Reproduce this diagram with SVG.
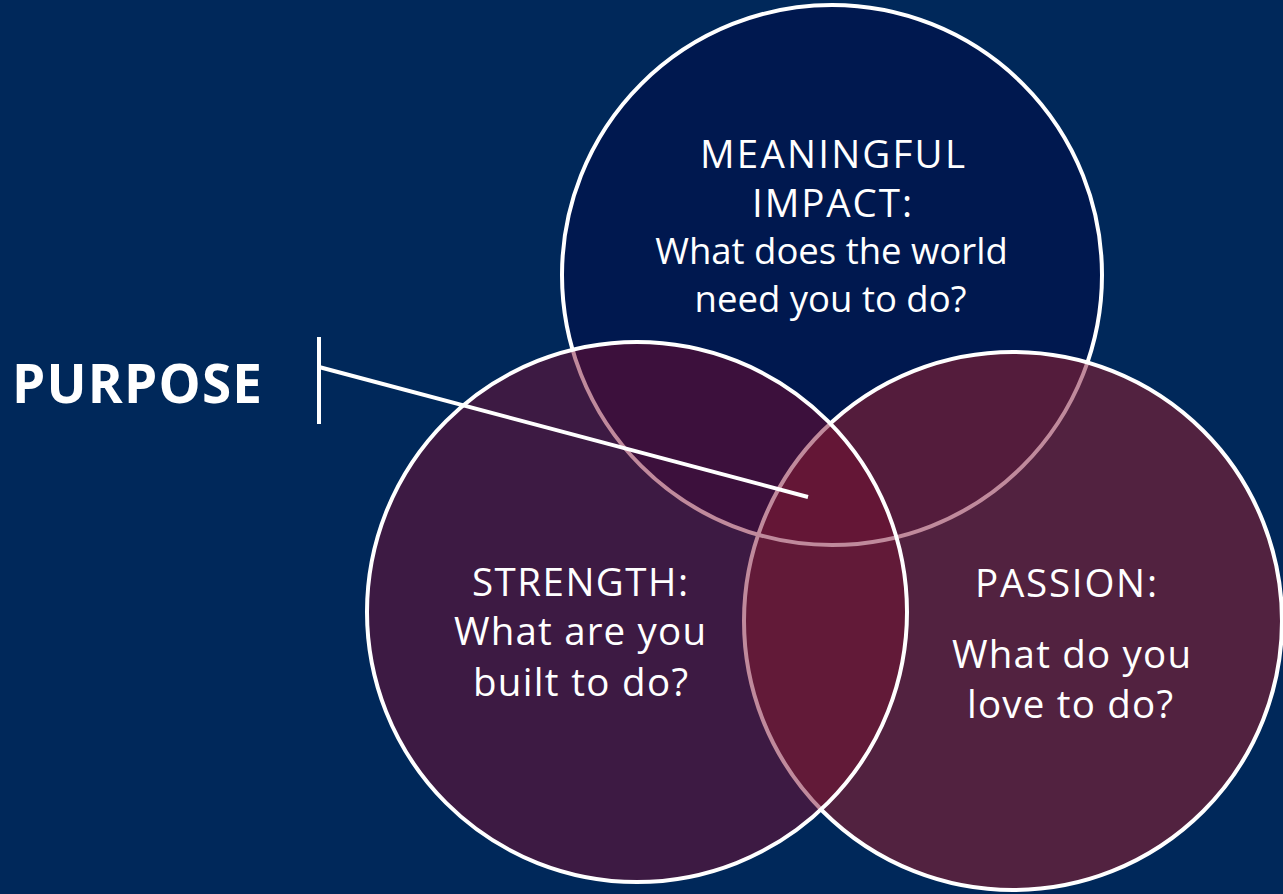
<svg xmlns="http://www.w3.org/2000/svg" width="1283" height="894" viewBox="0 0 1283 894">
<style>
.lbl{font-family:"Open Sans","Noto Sans","Liberation Sans",sans-serif;font-size:38.5px;font-weight:normal;fill:#ffffff;text-anchor:middle;}
.sm{font-size:36.5px;}
.ttl{font-family:"Open Sans","Noto Sans","Liberation Sans",sans-serif;font-size:53px;font-weight:bold;fill:#ffffff;}
.ws{fill:none;stroke:#ffffff;stroke-width:4;}
.ps{fill:none;stroke:#c08a9c;stroke-width:4;}
.ln{stroke:#ffffff;stroke-width:4;fill:none;}
</style>
<defs>
<clipPath id="cL"><circle cx="637" cy="612" r="270"/></clipPath>
<clipPath id="cR"><circle cx="1013" cy="621" r="269"/></clipPath>
<clipPath id="cLR"><circle cx="637" cy="612" r="270"/><circle cx="1013" cy="621" r="269"/></clipPath>
<mask id="mOutLR"><rect width="1283" height="894" fill="#fff"/><circle cx="637" cy="612" r="270" fill="#000"/><circle cx="1013" cy="621" r="269" fill="#000"/></mask>
<mask id="mOutL"><rect width="1283" height="894" fill="#fff"/><circle cx="637" cy="612" r="270" fill="#000"/></mask>
</defs>
<rect width="1283" height="894" fill="#00285a"/>
<g id="fills">
<circle cx="832" cy="275" r="270" fill="#00184f"/>
<circle cx="1013" cy="621" r="269" fill="#522240"/>
<circle cx="637" cy="612" r="270" fill="#3d1a43"/>
<g clip-path="url(#cR)"><circle cx="832" cy="275" r="270" fill="#541c3c"/></g>
<g clip-path="url(#cL)"><circle cx="832" cy="275" r="270" fill="#3c103c"/></g>
<g clip-path="url(#cL)"><circle cx="1013" cy="621" r="269" fill="#621a38"/></g>
<g clip-path="url(#cL)"><g clip-path="url(#cR)"><circle cx="832" cy="275" r="270" fill="#641636"/></g></g>
</g>
<g id="node-impact">
<circle class="ws" cx="832" cy="275" r="270" mask="url(#mOutLR)"/>
<circle class="ps" cx="832" cy="275" r="270" clip-path="url(#cLR)"/>
<text class="lbl" x="832.5" y="168" textLength="265" lengthAdjust="spacing">MEANINGFUL</text>
<text class="lbl" x="832" y="217" textLength="160" lengthAdjust="spacing">IMPACT:</text>
<text class="lbl sm" x="831.5" y="264">What does the world</text>
<text class="lbl sm" x="830.5" y="312">need you to do?</text>
</g>
<g id="node-passion">
<circle class="ws" cx="1013" cy="621" r="269" mask="url(#mOutL)"/>
<circle class="ps" cx="1013" cy="621" r="269" clip-path="url(#cL)"/>
<text class="lbl" x="1066" y="597" textLength="182" lengthAdjust="spacing">PASSION:</text>
<text class="lbl" x="1071.5" y="668" textLength="239" lengthAdjust="spacing">What do you</text>
<text class="lbl" x="1070" y="718" textLength="206" lengthAdjust="spacing">love to do?</text>
</g>
<g id="node-strength">
<circle class="ws" cx="637" cy="612" r="270"/>
<text class="lbl" x="580" y="596" textLength="216" lengthAdjust="spacing">STRENGTH:</text>
<text class="lbl" x="580" y="645" textLength="252" lengthAdjust="spacing">What are you</text>
<text class="lbl" x="580.5" y="696" textLength="215" lengthAdjust="spacing">built to do?</text>
</g>
<g id="node-purpose">
<text class="ttl" x="12" y="403" textLength="250" lengthAdjust="spacing">PURPOSE</text>
</g>
<g id="connectors">
<line class="ln" x1="319" y1="337" x2="319" y2="424"/>
<line class="ln" x1="319" y1="367" x2="808" y2="497"/>
</g>
</svg>
